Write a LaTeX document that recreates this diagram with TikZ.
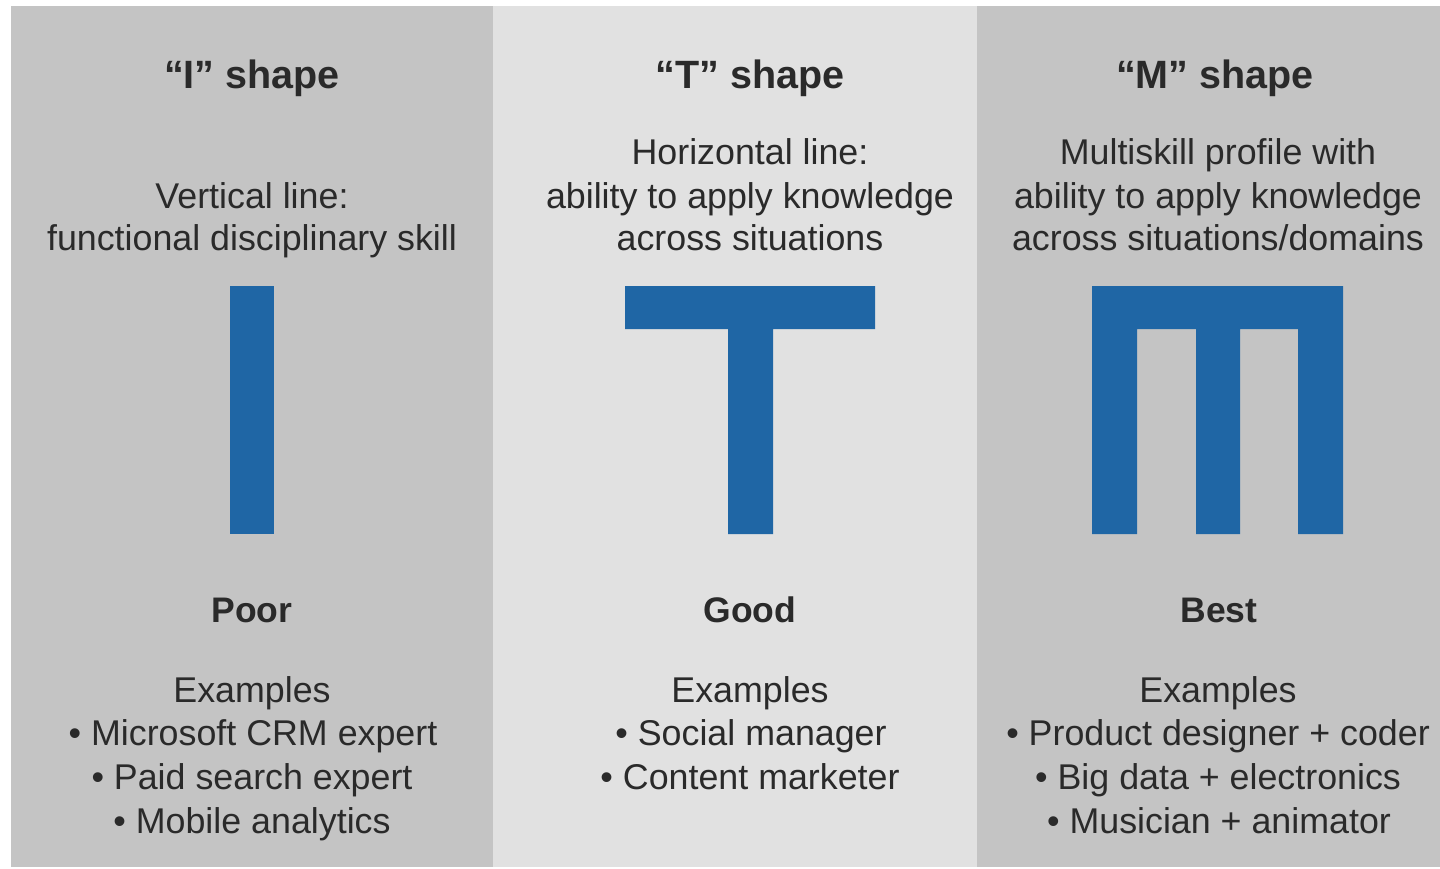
\documentclass[tikz,border=0pt]{standalone}
\usepackage{fontspec}
\setmainfont{Liberation Sans}
\definecolor{paneldark}{HTML}{C4C4C4}
\definecolor{panellight}{HTML}{E1E1E1}
\definecolor{shapeblue}{HTML}{1F66A5}
\definecolor{txt}{HTML}{2A2A2A}
\begin{document}
\begin{tikzpicture}[x=1pt,y=-1pt,
  title/.style={anchor=base,inner sep=0,text=txt,font=\fontsize{39.5}{44}\selectfont\bfseries},
  rating/.style={anchor=base,inner sep=0,text=txt,font=\fontsize{35.5}{42}\selectfont\bfseries},
  body/.style={anchor=base,inner sep=0,text=txt,font=\fontsize{35.8}{42}\selectfont},
  skill/.style={fill=shapeblue}]
\useasboundingbox (0,0) rectangle (1440,869);
\fill[white] (0,0) rectangle (1440,869);
% panels
\fill[paneldark] (11,6) rectangle (493,867);
\fill[panellight] (493,6) rectangle (977,867);
\fill[paneldark] (977,6) rectangle (1440,867);
% shapes
\fill[skill] (230,286) rectangle (274,534);
\fill[skill] (625,286) -- (875,286) -- (875,329) -- (773,329) -- (773,534) -- (728,534) -- (728,329) -- (625,329) -- cycle;
\fill[skill] (1092,286) -- (1343,286) -- (1343,534) -- (1298,534) -- (1298,329) -- (1240,329) -- (1240,534) -- (1196,534) -- (1196,329) -- (1137,329) -- (1137,534) -- (1092,534) -- cycle;
% panel 1
\node[title] (t1) at (252,89) {“I” shape};
\node[body] (d1a) at (252,208) {Vertical line:};
\node[body] (d1b) at (252,250) {functional disciplinary skill};
\node[rating] (r1) at (252,622) {Poor};
\node[body] (e1) at (252,702) {Examples};
\node[body] (e1a) at (253,745) {• Microsoft CRM expert};
\node[body] (e1b) at (252,789) {• Paid search expert};
\node[body] (e1c) at (252,833) {• Mobile analytics};
% panel 2
\node[title] (t2) at (750,89) {“T” shape};
\node[body] (d2a) at (750,165) {Horizontal line:};
\node[body] (d2b) at (750,208) {ability to apply knowledge};
\node[body] (d2c) at (750,250) {across situations};
\node[rating] (r2) at (750,622) {Good};
\node[body] (e2) at (750,702) {Examples};
\node[body] (e2a) at (751,745) {• Social manager};
\node[body] (e2b) at (750,789) {• Content marketer};
% panel 3
\node[title] (t3) at (1215,89) {“M” shape};
\node[body] (d3a) at (1218,165) {Multiskill profile with};
\node[body] (d3b) at (1218,208) {ability to apply knowledge};
\node[body] (d3c) at (1218,250) {across situations/domains};
\node[rating] (r3) at (1219,622) {Best};
\node[body] (e3) at (1218,702) {Examples};
\node[body] (e3a) at (1218,745) {• Product designer + coder};
\node[body] (e3b) at (1218,789) {• Big data + electronics};
\node[body] (e3c) at (1219,833) {• Musician + animator};
\end{tikzpicture}
\end{document}
